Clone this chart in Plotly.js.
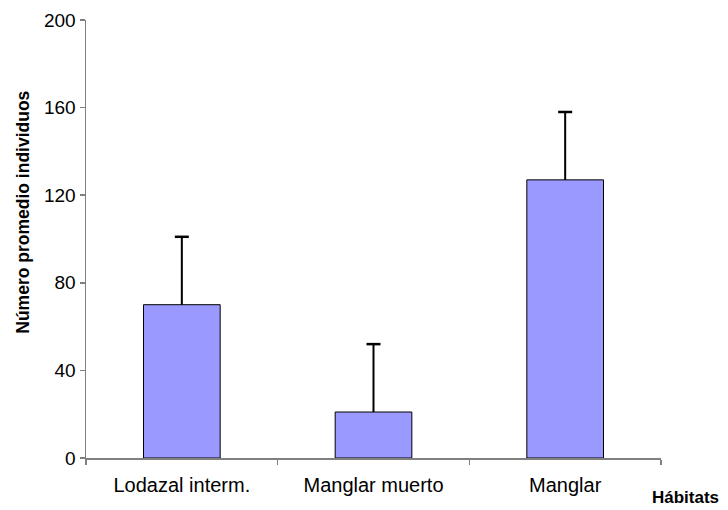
<!DOCTYPE html>
<html>
<head>
<meta charset="utf-8">
<script src="https://cdn.plot.ly/plotly-3.0.1.min.js"></script>
<style>html,body{margin:0;padding:0;background:#fff;}#chart{width:728px;height:510px;}</style>
</head>
<body>
<div id="chart"></div>
<script>
const categories = ["Lodazal interm.", "Manglar muerto", "Manglar"];
const means = [70, 21, 127];
const errors = [31, 31, 31];
const yTicks = [0, 40, 80, 120, 160, 200];

const tops = means.map((m, i) => m + errors[i]);

const barTrace = {
  type: "bar",
  x: categories,
  y: means,
  width: 0.4,
  marker: {color: "#9999FF", line: {color: "#000000", width: 1}},
  error_y: {type: "data", symmetric: false, array: errors, arrayminus: [0,0,0], color: "#000000", thickness: 2, width: 0}
};

const capTrace = {
  type: "scatter",
  mode: "markers",
  x: categories,
  y: tops,
  marker: {symbol: "line-ew", size: 10, line: {color: "#000000", width: 2.5}},
  hoverinfo: "skip"
};

const FONT = "Liberation Sans, Arial, sans-serif";

const layout = {
  width: 728, height: 510,
  margin: {l: 86, r: 67, t: 20, b: 52},
  paper_bgcolor: "#ffffff", plot_bgcolor: "#ffffff",
  showlegend: false,
  font: {family: FONT, size: 18, color: "#000"},
  xaxis: {
    showline: true, linecolor: "#808080", linewidth: 1.5,
    ticks: "outside", tickson: "boundaries", ticklen: 5, tickcolor: "#808080", tickwidth: 1.5,
    showgrid: false, zeroline: false,
    tickfont: {size: 20, family: FONT},
    ticklabelstandoff: 8,
    range: [-0.5, 2.5]
  },
  yaxis: {
    range: [0, 200], tickvals: yTicks, ticktext: yTicks.map(String),
    showline: true, linecolor: "#808080", linewidth: 1.5,
    ticks: "outside", ticklen: 5, tickcolor: "#808080", tickwidth: 1.5,
    showgrid: false, zeroline: false,
    tickfont: {size: 19, family: FONT}
  },
  annotations: [
    {text: "<b>Hábitats</b>", xref: "paper", yref: "paper", x: 1.042, y: 0, xanchor: "center", yanchor: "middle", yshift: -39, showarrow: false,
     font: {size: 17, family: FONT}},
    {text: "<b>Número promedio individuos</b>", xref: "paper", yref: "paper", x: 0, xanchor: "center", xshift: -63, y: 0.56, yanchor: "middle", textangle: -90, showarrow: false,
     font: {size: 17.5, family: FONT}}
  ]
};

Plotly.newPlot("chart", [barTrace, capTrace], layout, {displayModeBar: false, staticPlot: true});
</script>
</body>
</html>
